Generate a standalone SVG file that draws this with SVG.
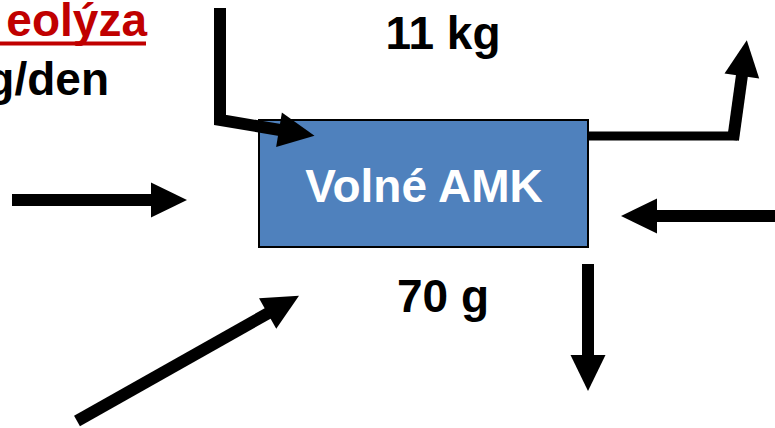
<svg xmlns="http://www.w3.org/2000/svg" width="775" height="428" viewBox="0 0 775 428">
<style>
  .t{font-family:"Liberation Sans",Arial,sans-serif;font-weight:bold;}
  .arr{fill:none;stroke:#000;stroke-width:12;stroke-linejoin:miter;marker-end:url(#head);}
</style>
<defs>
  <marker id="head" markerUnits="userSpaceOnUse" markerWidth="36" markerHeight="35" refX="1" refY="17.5" orient="auto" overflow="visible">
    <path d="M0,0 L36,17.5 L0,35 Z" fill="#000"/>
  </marker>
</defs>
<rect width="775" height="428" fill="#fff"/>
<g id="label-proteolyza">
  <text class="t" x="147" y="36" font-size="46" fill="#c00000" text-anchor="end">eolýza</text>
  <rect x="0" y="41.5" width="146" height="4" fill="#c00000"/>
</g>
<g id="label-gden">
  <text class="t" x="109" y="95" font-size="46" fill="#000" text-anchor="end">g/den</text>
</g>
<g id="label-11kg">
  <text class="t" x="443" y="49" font-size="46" fill="#000" text-anchor="middle">11 kg</text>
</g>
<g id="node-volne-amk">
  <rect x="259" y="120" width="329" height="127" fill="#4f81bd" stroke="#000" stroke-width="2"/>
  <text class="t" x="424" y="202" font-size="46" fill="#fff" text-anchor="middle">Volné AMK</text>
</g>
<g id="label-70g">
  <text class="t" x="443" y="312" font-size="46" fill="#000" text-anchor="middle">70 g</text>
</g>
<g id="connectors">
  <path class="arr" d="M220,8 L220,120 L280,130"/>
  <path d="M589,136 L737,136" fill="none" stroke="#000" stroke-width="9"/>
  <path class="arr" d="M733,140 L742,75"/>
  <path class="arr" d="M12,200 L152,200"/>
  <path class="arr" d="M775,216 L656,216"/>
  <path class="arr" d="M588,264 L588,356"/>
  <path class="arr" d="M77,421 L268.5,313"/>
</g>
</svg>
